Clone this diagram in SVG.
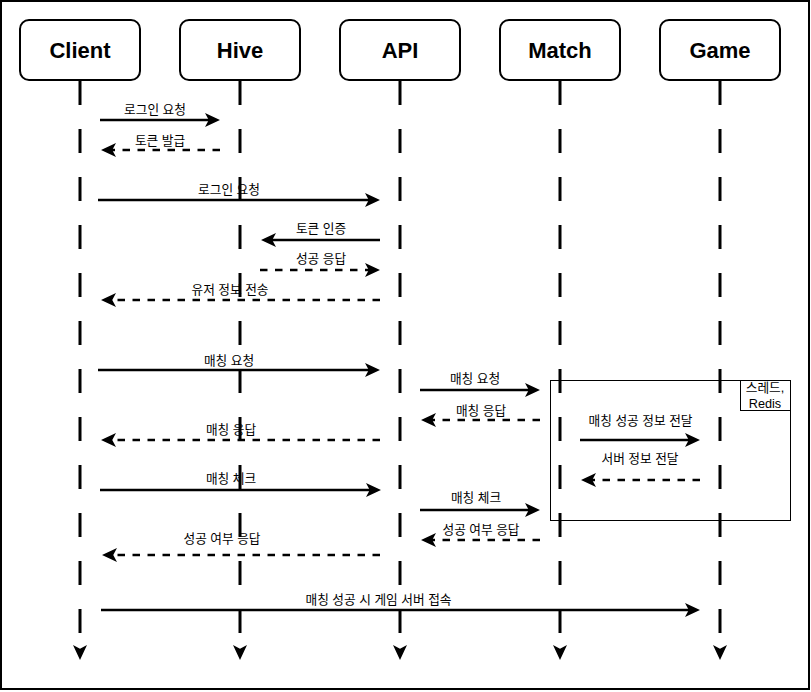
<svg xmlns="http://www.w3.org/2000/svg" width="811" height="692" viewBox="0 0 811 692">
<style>
.box{fill:#fff;stroke:#000;stroke-width:2}
.name{font-family:"Liberation Sans","Noto Sans CJK KR",sans-serif;font-size:22px;font-weight:bold;text-anchor:middle;fill:#000}
.life{fill:none;stroke:#000;stroke-width:3;stroke-dasharray:24 24;marker-end:url(#ah)}
.msg{fill:none;stroke:#000;stroke-width:2.5;marker-end:url(#ah)}
.dash{stroke-dasharray:7.5 7.5}
.lbl{font-family:"Liberation Sans","Noto Sans CJK KR",sans-serif;font-size:12.7px;text-anchor:middle;fill:#000}
.frame{fill:none;stroke:#000;stroke-width:1}
</style>
<defs>
<marker id="ah" markerUnits="userSpaceOnUse" viewBox="0 0 15 14" markerWidth="15" markerHeight="14" refX="5" refY="7" orient="auto">
<path d="M0,0 L15,7 L0,14 L3.75,7 Z" fill="#000"/>
</marker>
</defs>
<rect x="1" y="1" width="808" height="688" fill="#fff" stroke="#000" stroke-width="2"/>
<g id="lifelines">
<path class="life" d="M80,81 V650"/>
<path class="life" d="M240,81 V650"/>
<path class="life" d="M400,81 V650"/>
<path class="life" d="M560,81 V650"/>
<path class="life" d="M720,81 V650"/>
</g>
<g id="node-client"><rect class="box" x="20" y="20" width="120" height="60" rx="9"/><text class="name" x="80" y="58">Client</text></g>
<g id="node-hive"><rect class="box" x="180" y="20" width="120" height="60" rx="9"/><text class="name" x="240" y="58">Hive</text></g>
<g id="node-api"><rect class="box" x="340" y="20" width="120" height="60" rx="9"/><text class="name" x="400" y="58">API</text></g>
<g id="node-match"><rect class="box" x="500" y="20" width="120" height="60" rx="9"/><text class="name" x="560" y="58">Match</text></g>
<g id="node-game"><rect class="box" x="660" y="20" width="120" height="60" rx="9"/><text class="name" x="720" y="58">Game</text></g>
<g id="node-thread-frame">
<rect class="frame" x="550.5" y="380.5" width="240" height="140"/>
<rect class="frame" x="740.5" y="380.5" width="50" height="30"/>
<text class="lbl" x="765" y="391.5">스레드,</text>
<text class="lbl" x="765" y="407.5">Redis</text>
</g>
<g id="connectors">
<path class="msg" d="M100,120 H210"/>
<path class="msg dash" d="M220,150 H111"/>
<path class="msg" d="M98,200 H370"/>
<path class="msg" d="M380,240 H271"/>
<path class="msg dash" d="M260,270 H370"/>
<path class="msg dash" d="M380,300 H111"/>
<path class="msg" d="M98,370 H370"/>
<path class="msg" d="M420,390 H530"/>
<path class="msg dash" d="M540,420 H431"/>
<path class="msg dash" d="M380,440 H111"/>
<path class="msg" d="M580,440 H690"/>
<path class="msg dash" d="M700,480 H591"/>
<path class="msg" d="M100,490 H371"/>
<path class="msg" d="M420,510 H530"/>
<path class="msg dash" d="M540,540 H431"/>
<path class="msg dash" d="M380,555 H112"/>
<path class="msg" d="M101,610 H690"/>
</g>
<g id="labels">
<text class="lbl" x="155" y="113.5">로그인 요청</text>
<text class="lbl" x="160" y="144.5">토큰 발급</text>
<text class="lbl" x="229" y="193.5">로그인 요청</text>
<text class="lbl" x="321" y="232.5">토큰 인증</text>
<text class="lbl" x="321" y="262.5">성공 응답</text>
<text class="lbl" x="230" y="293.5">유저 정보 전송</text>
<text class="lbl" x="229" y="364.5">매칭 요청</text>
<text class="lbl" x="475" y="382.5">매칭 요청</text>
<text class="lbl" x="481" y="414.5">매칭 응답</text>
<text class="lbl" x="231" y="433.5">매칭 응답</text>
<text class="lbl" x="640.5" y="424.5">매칭 성공 정보 전달</text>
<text class="lbl" x="640" y="462.5">서버 정보 전달</text>
<text class="lbl" x="231" y="482.5">매칭 체크</text>
<text class="lbl" x="476" y="501.5">매칭 체크</text>
<text class="lbl" x="481" y="533.5">성공 여부 응답</text>
<text class="lbl" x="222" y="542.5">성공 여부 응답</text>
<text class="lbl" x="378.5" y="603.5">매칭 성공 시 게임 서버 접속</text>
</g>
</svg>
